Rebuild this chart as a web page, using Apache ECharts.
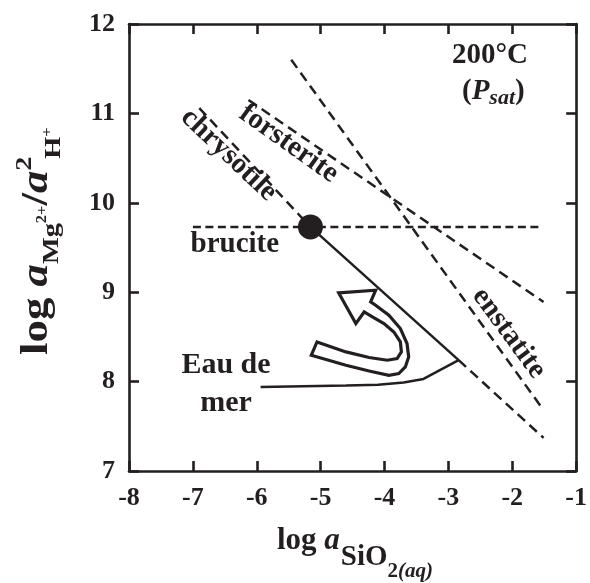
<!DOCTYPE html>
<html><head><meta charset="utf-8">
<script src="https://cdn.jsdelivr.net/npm/echarts@6/dist/echarts.min.js"></script>
<style>html,body{margin:0;padding:0;background:#fff}#c{width:590px;height:583px}</style>
</head><body><div id="c"></div>
<script>
// ---- data ----
const xTicks = [-8, -7, -6, -5, -4, -3, -2, -1];
const yTicks = [7, 8, 9, 10, 11, 12];
const bruciteLine = [[-7.0, 9.73], [-1.56, 9.73]];
const chrysotileUpper = [[-6.9, 11.06], [-5.16, 9.73]];
const chrysotileLower = [[-2.84, 8.24], [-1.51, 7.37]];
const forsteriteLine = [[-6.13, 11.15], [-1.51, 8.89]];
const enstatiteLine = [[-5.46, 11.60], [-1.51, 7.68]];
const seawaterPath = [[-5.94, 7.94], [-4.6, 7.955], [-4.1, 7.965], [-3.7, 7.99], [-3.39, 8.03], [-2.84, 8.24], [-5.16, 9.73]];
const saturationPoint = [[-5.16, 9.73]];
const arrowOutline = [
  [-4.717, 8.992], [-4.139, 9.022], [-4.217, 8.891], [-4.139, 8.854], [-3.932, 8.742],
  [-3.752, 8.594], [-3.648, 8.426], [-3.622, 8.276], [-3.674, 8.164], [-3.777, 8.090],
  [-3.932, 8.071], [-4.241, 8.119], [-4.604, 8.183], [-5.146, 8.295], [-5.057, 8.444],
  [-4.604, 8.332], [-4.241, 8.269], [-3.958, 8.239], [-3.803, 8.258], [-3.736, 8.332],
  [-3.752, 8.444], [-3.854, 8.555], [-4.009, 8.649], [-4.190, 8.723], [-4.319, 8.779],
  [-4.449, 8.649]
];
const mineralNames = ['chrysotile', 'forsterite', 'enstatite', 'brucite'];
const seawaterName = 'Eau de\nmer';

// ---- style ----
const INK = '#231f20';
const SERIF = '"Liberation Serif","Times New Roman",serif';
const chart = echarts.init(document.getElementById('c'));

function dashed(data, pattern) {
  return { type: 'line', data, symbol: 'none', silent: true, animation: false, z: 3,
    lineStyle: { color: INK, width: 2.5, type: pattern || [10, 6] } };
}
const axisCommon = {
  type: 'value', splitLine: { show: false },
  axisLine: { show: true, onZero: false, lineStyle: { color: INK, width: 2.6 } },
  axisTick: { show: true, inside: true, length: 10, lineStyle: { color: INK, width: 2.6 } }
};
const lblStyle = { color: INK, fontFamily: SERIF, fontWeight: 'bold', fontSize: 26, showMinLabel: true, showMaxLabel: true };

chart.setOption({
  animation: false,
  grid: { left: 129, right: 9, top: 24, bottom: 112 },
  xAxis: [
    Object.assign({}, axisCommon, { position: 'bottom', min: xTicks[0], max: xTicks[xTicks.length - 1], interval: 1,
      axisLabel: Object.assign({ margin: 14, formatter: v => String(v) }, lblStyle) }),
    Object.assign({}, axisCommon, { position: 'top', min: xTicks[0], max: xTicks[xTicks.length - 1], interval: 1,
      axisLabel: { show: false } })
  ],
  yAxis: [
    Object.assign({}, axisCommon, { position: 'left', min: yTicks[0], max: yTicks[yTicks.length - 1], interval: 1,
      axisLabel: Object.assign({ margin: 14, formatter: v => String(v) }, lblStyle) }),
    Object.assign({}, axisCommon, { position: 'right', min: yTicks[0], max: yTicks[yTicks.length - 1], interval: 1,
      axisLabel: { show: false } })
  ],
  series: [
    dashed(bruciteLine, [8, 4.5]), dashed(chrysotileUpper), dashed(chrysotileLower),
    dashed(forsteriteLine), dashed(enstatiteLine),
    { type: 'line', data: seawaterPath, symbol: 'none', silent: true, z: 3,
      lineStyle: { color: INK, width: 2.5, type: 'solid' } },
    { type: 'custom', coordinateSystem: 'cartesian2d', data: [arrowOutline[0]], silent: true, z: 4, clip: false,
      renderItem: (params, api) => ({ type: 'polygon',
        shape: { points: arrowOutline.map(p => api.coord(p)) },
        style: { fill: '#fff', stroke: INK, lineWidth: 3.2, lineJoin: 'miter' } }) },
    { type: 'scatter', data: saturationPoint, symbolSize: 25, silent: true, z: 5,
      itemStyle: { color: INK, opacity: 1 } }
  ]
});

// ---- text annotations ----
const ctx = document.createElement('canvas').getContext('2d');
function fontStr(r) { return (r.italic ? 'italic ' : '') + 'bold ' + r.size + 'px ' + SERIF; }
function runText(runs) {
  let x = 0; const out = [];
  runs.forEach(r => {
    ctx.font = fontStr(r);
    const w = ctx.measureText(r.t).width;
    out.push({ type: 'text', x: x, y: (r.dy || 0) - 0.34 * r.size, silent: true,
      style: { text: r.t, fill: INK, fontFamily: SERIF, fontWeight: 'bold', fontStyle: r.italic ? 'italic' : 'normal',
        fontSize: r.size, align: 'left', verticalAlign: 'middle', textAlign: 'left', textVerticalAlign: 'middle' } });
    x += w + (r.gap || 0);
  });
  return out;
}
function px(p) { return chart.convertToPixel({ xAxisIndex: 0, yAxisIndex: 0 }, p); }
function centered(text, at, size, rotDeg, lh) {
  const p = px(at);
  return { type: 'text', x: p[0], y: p[1], rotation: (rotDeg || 0) * Math.PI / 180, silent: true,
    style: { text, fill: INK, fontFamily: SERIF, fontWeight: 'bold', fontSize: size, lineHeight: lh || size,
      align: 'center', verticalAlign: 'middle', textAlign: 'center', textVerticalAlign: 'middle' } };
}

const graphics = [
  centered(mineralNames[0], [-6.439, 10.535], 29, -43.5),
  centered(mineralNames[1], [-5.50, 10.66], 29, -35.5),
  centered(mineralNames[2], [-2.053, 8.541], 29, -53.5),
  centered(mineralNames[3], [-6.343, 9.537], 29, 0),
  centered(seawaterName, [-6.482, 7.97], 30, 0, 38),
  centered('200°C', [-2.35, 11.653], 29, 0),
  { type: 'group', x: 462, y: 101, children: runText([
    { t: '(', size: 29 }, { t: 'P', size: 29, italic: true }, { t: 'sat', size: 22, italic: true, dy: 5 },
    { t: ')', size: 29 }]) },
  // x axis title
  { type: 'group', x: 277, y: 552, children: runText([
    { t: 'log ', size: 31 }, { t: 'a', size: 31, italic: true, gap: 1 }, { t: 'SiO', size: 29, dy: 15 },
    { t: '2', size: 21, dy: 27 }, { t: '(aq)', size: 21, italic: true, dy: 27 }]) },
  // y axis title (rotated, stretched along the reading direction)
  { type: 'group', x: 50, y: 355, rotation: Math.PI / 2, scaleX: 1.18, children: runText([
    { t: 'log ', size: 38 }, { t: 'a', size: 38, italic: true }, { t: 'Mg', size: 24, dy: 10 },
    { t: '2+', size: 14, dy: -3 }, { t: '/', size: 38 }, { t: 'a', size: 38, italic: true },
    { t: '2', size: 24, dy: -17, gap: -2 }, { t: 'H', size: 24, dy: 12 }, { t: '+', size: 14, dy: 2 }]) }
];
chart.setOption({ graphic: graphics });
</script></body></html>
